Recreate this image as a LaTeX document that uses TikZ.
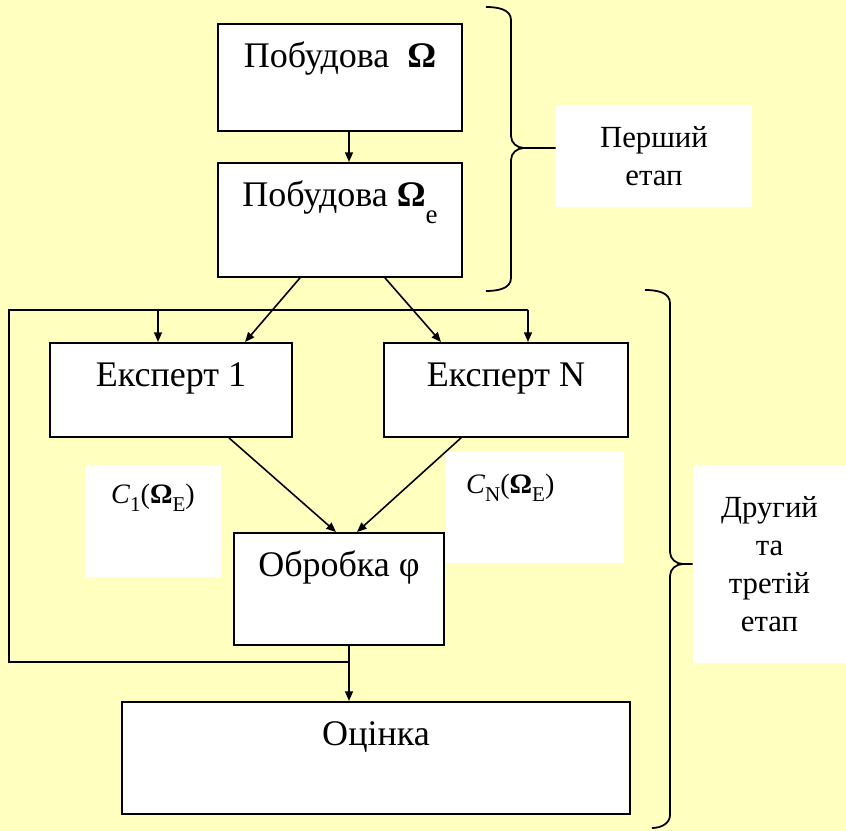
\documentclass[tikz,border=0pt]{standalone}
\usepackage{fontspec}
\setmainfont{Liberation Serif}
\usepackage{tikz}
\usetikzlibrary{arrows.meta,calc}
\definecolor{bgyellow}{RGB}{255,255,192}
\newcommand{\lowidx}[2]{\raisebox{-#1em}{\scalebox{0.75}{#2}}}

\begin{document}
\begin{tikzpicture}[x=0.02cm, y=-0.02cm,
    block/.style={draw, fill=white, line width=1.1pt, inner sep=0pt, anchor=north,
        text height=0.88cm, font=\fontsize{20.5}{24}\selectfont},
    tag/.style={fill=white, inner sep=0pt, align=center, font=\fontsize{17.5}{21.6}\selectfont},
    formula/.style={fill=white, inner sep=0pt, anchor=north, font=\fontsize{16}{19}\selectfont},
    arrow/.style={-{Triangle[length=5.5pt,width=4.5pt]}, line width=0.9pt},
    link/.style={line width=0.9pt},
    bracket/.style={line width=1pt}]

            % Background
            \fill[bgyellow] (0,0) rectangle (846,831);
            \useasboundingbox (0,0) rectangle (846,831);

            % Stage labels
            \node[tag, minimum width=3.92cm, minimum height=2.04cm] (first) at (654,156) {Перший\\етап};
            \node[tag, minimum width=3.06cm, minimum height=3.96cm] (second) at (769.5,564) {Другий\\та\\третій\\етап};

            % Brackets
            \coordinate (tip1) at (524,148);
            \draw[bracket] (486,7) to[out=0,in=90] (511,20) -- (511,136) to[out=-90,in=180] (tip1) -- (tip1 -| first.west);
            \draw[bracket] (tip1) to[out=180,in=90] (511,160) -- (511,278) to[out=-90,in=0] (486,291);
            \coordinate (tip2) at (683,564);
            \draw[bracket] (645,290) to[out=0,in=90] (670,303) -- (670,552) to[out=-90,in=180] (tip2) -- (second.west);
            \draw[bracket] (tip2) to[out=180,in=90] (670,576) -- (670,815) to[out=-90,in=0] (652,828);

            % Blocks
            \node[block, minimum width=4.88cm, text depth=1.26cm] (build) at (340,23) {Побудова~~\textbf{Ω}};
            \node[block, minimum width=4.88cm, text depth=1.40cm] (buildE) at (340,162) {Побудова \textbf{Ω}\lowidx{0.45}{e}};
            \node[block, minimum width=4.84cm, text depth=1.00cm] (exp1) at (171,342) {Експерт 1};
            \node[block, minimum width=4.88cm, text depth=1.00cm] (expN) at (506,342) {Експерт N};
            \node[block, minimum width=4.20cm, text depth=1.36cm] (proc) at (339,532) {Обробка φ};
            \node[block, minimum width=10.16cm, text depth=1.36cm] (score) at (376,701) {Оцінка};

            % Expert results
            \node[formula, minimum width=2.74cm, text height=0.76cm, text depth=1.48cm] (c1) at (153,465)
                {\textit{C}\lowidx{0.3}{1}(\textbf{Ω}\lowidx{0.3}{E})};
            \node[formula, text width=2.76cm, inner xsep=0.4cm, text height=0.82cm, text depth=1.40cm, align=left] (cN) at (535,452)
                {\textit{C}\lowidx{0.3}{N}(\textbf{Ω}\lowidx{0.3}{E})};

            % Flow
            \draw[arrow] ($(build.south)+(9,0)$) -- ($(buildE.north)+(9,0)$);
            \draw[arrow] ($(buildE.south)+(-40,0)$) -- ($(exp1.north)+(74,0)$);
            \draw[arrow] ($(buildE.south)+(45,0)$) -- ($(expN.north)+(-65,0)$);
            \draw[arrow] ($(exp1.south)+(58,0)$) -- ($(proc.north)+(-3,0)$);
            \draw[arrow] ($(expN.south)+(-45,0)$) -- ($(proc.north)+(18,0)$);

            % Feedback loop
            \coordinate (join) at ($(proc.south)+(10,0)$);
            \coordinate (fbLow) at (9,662);
            \coordinate (fbTop) at (9,310);
            \coordinate (drop1) at (158,310);
            \coordinate (dropN) at (528,310);
            \draw[arrow] (join) -- (join |- score.north);
            \draw[link] (fbLow -| join) -- (fbLow) -- (fbTop) -- (dropN);
            \draw[arrow] (drop1) -- (drop1 |- exp1.north);
            \draw[arrow] (dropN) -- (dropN |- expN.north);

\end{tikzpicture}
\end{document}
